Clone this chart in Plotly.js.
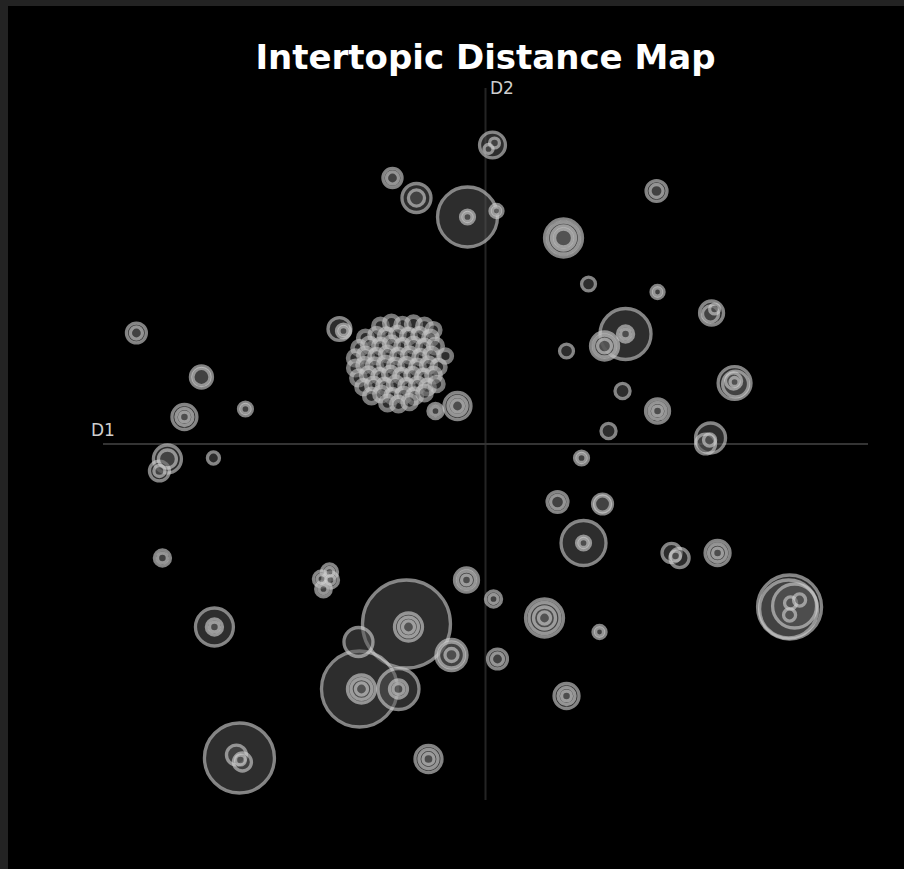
<!DOCTYPE html>
<html>
<head>
<meta charset="utf-8">
<script src="https://cdn.plot.ly/plotly-3.0.1.min.js"></script>
<style>
  html, body { margin: 0; padding: 0; background: #232323; width: 904px; height: 869px; overflow: hidden; }
  #chart { position: absolute; left: 8px; top: 6px; width: 896px; height: 863px; }
</style>
</head>
<body>
<div id="chart"></div>
<script>
// ---- Topic coordinates (2D embedding) and topic sizes ----
const topicX = [
  0.175, 0.225, 0.075,
  -2.325, -2.325,
  -1.725, -1.725,
  -0.45, -0.45, -0.45,
  0.275, 0.275,
  4.275, 4.275,
  1.95, 1.95, 1.95, 1.95,
  2.575,
  4.3, 4.3,
  5.65, 5.625, 5.725,
  3.5, 3.5, 3.5,
  2.975, 2.975, 2.975,
  2.025,
  6.225, 6.25, 6.2, 6.225,
  3.425,
  4.3, 4.3, 4.3,
  3.075,
  5.625, 5.5, 5.6,
  -8.725, -8.725,
  -7.1, -7.1,
  -7.525, -7.525, -7.525,
  -6.0, -6.0,
  -3.65, -3.55, -3.55,
  -1.25, -1.25,
  -0.7, -0.7, -0.7,
  -7.95, -7.95, -8.15, -8.15,
  -6.8,
  -8.075, -8.075,
  -3.9, -3.9, -4.1, -4.1, -3.875, -3.875, -4.05, -4.05,
  -6.775, -6.775, -6.775,
  -6.15, -6.225, -6.075, -6.125,
  -3.175,
  -1.975, -1.925, -1.925, -1.925,
  -0.85, -0.85, -0.85,
  -3.15, -3.1, -3.1, -3.1,
  -2.175, -2.175, -2.175,
  -0.475, -0.475, -0.475,
  -1.425, -1.425, -1.425,
  0.2, 0.2,
  2.4, 2.4,
  1.8, 1.8,
  2.925, 2.925,
  2.45, 2.45, 2.45,
  4.65, 4.85, 4.75,
  5.8, 5.8, 5.8,
  7.6, 7.575, 7.725, 7.625, 7.85, 7.6,
  1.475, 1.475, 1.475, 1.475,
  2.85, 2.85,
  0.3, 0.3,
  2.025, 2.025, 2.025
];
const topicY = [
  7.475, 7.525, 7.375,
  6.65, 6.65,
  6.15, 6.15,
  5.675, 5.675, 5.675,
  5.825, 5.825,
  6.325, 6.325,
  5.15, 5.15, 5.15, 5.15,
  4.0,
  3.8, 3.8,
  3.275, 3.25, 3.375,
  2.75, 2.75, 2.75,
  2.45, 2.45, 2.45,
  2.325,
  1.525, 1.5, 1.575, 1.55,
  1.325,
  0.825, 0.825, 0.825,
  0.325,
  0.15, 0.0, 0.1,
  2.775, 2.775,
  1.675, 1.675,
  0.675, 0.675, 0.675,
  0.875, 0.875,
  2.875, 2.825, 2.825,
  0.825, 0.825,
  0.95, 0.95, 0.95,
  -0.375, -0.375, -0.675, -0.675,
  -0.35,
  -2.85, -2.85,
  -3.2, -3.2, -3.375, -3.375, -3.4, -3.4, -3.625, -3.625,
  -4.575, -4.575, -4.575,
  -7.85, -7.775, -7.95, -7.9,
  -4.95,
  -4.5, -4.575, -4.575, -4.575,
  -5.275, -5.275, -5.275,
  -6.125, -6.125, -6.125, -6.125,
  -6.125, -6.125, -6.125,
  -3.4, -3.4, -3.4,
  -7.875, -7.875, -7.875,
  -3.875, -3.875,
  -0.35, -0.35,
  -1.45, -1.45,
  -1.5, -1.5,
  -2.475, -2.475, -2.475,
  -2.725, -2.85, -2.8,
  -2.725, -2.725, -2.725,
  -4.075, -4.125, -4.05, -3.975, -3.9, -4.275,
  -4.35, -4.35, -4.35, -4.35,
  -4.7, -4.7,
  -5.375, -5.375,
  -6.3, -6.3, -6.3
];
const topicSize = [
  83, 12, 10,
  45, 18,
  104, 32,
  444, 24, 10,
  21, 8,
  54, 21,
  178, 126, 71, 40,
  24,
  21, 8,
  71, 32, 12,
  321, 32, 12,
  97, 60, 24,
  24,
  134, 83, 32, 10,
  28,
  71, 36, 12,
  28,
  111, 49, 18,
  49, 18,
  60, 36,
  77, 36, 12,
  24, 10,
  65, 24, 10,
  28, 10,
  90, 45, 18,
  97, 40, 49, 15,
  18,
  32, 12,
  32, 10, 32, 10, 32, 10, 30, 10,
  178, 32, 12,
  605, 49, 40, 12,
  104,
  956, 97, 49, 18,
  119, 83, 21,
  713, 97, 54, 18,
  208, 40, 15,
  71, 40, 12,
  90, 45, 15,
  32, 10,
  24, 10,
  54, 24,
  49, 32,
  250, 24, 10,
  45, 45, 12,
  77, 40, 12,
  506, 415, 239, 18, 18, 18,
  178, 119, 60, 18,
  21, 8,
  49, 18,
  77, 36, 12
];

// ---- Dense group of small topics (left of D2, above D1) ----
const clusterX = [
  -2.625, -2.35, -2.075, -1.8, -1.525, -1.3,
  -3.0, -2.725, -2.475, -2.2, -1.925, -1.65, -1.375,
  -3.15, -2.9, -2.625, -2.35, -2.075, -1.8, -1.525, -1.25,
  -3.25, -3.0, -2.725, -2.45, -2.175, -1.9, -1.625, -1.35, -1.0,
  -3.25, -3.025, -2.775, -2.5, -2.25, -1.975, -1.7, -1.425, -1.175,
  -3.175, -2.925, -2.65, -2.375, -2.1, -1.825, -1.55, -1.3,
  -3.05, -2.8, -2.525, -2.25, -1.975, -1.7, -1.45, -1.225,
  -2.85, -2.6, -2.325, -2.05, -1.775, -1.525,
  -2.45, -2.175, -1.9
];
const clusterY = [
  2.95, 3.025, 2.975, 3.0, 2.95, 2.85,
  2.65, 2.725, 2.7, 2.75, 2.7, 2.725, 2.65,
  2.4, 2.475, 2.45, 2.5, 2.45, 2.475, 2.425, 2.45,
  2.15, 2.225, 2.2, 2.25, 2.2, 2.225, 2.175, 2.225, 2.2,
  1.9, 1.975, 1.95, 2.0, 1.95, 1.975, 1.925, 1.975, 1.925,
  1.65, 1.725, 1.7, 1.75, 1.7, 1.725, 1.675, 1.725,
  1.425, 1.475, 1.45, 1.5, 1.45, 1.475, 1.425, 1.5,
  1.2, 1.25, 1.2, 1.225, 1.2, 1.275,
  1.025, 1.0, 1.05
];
const clusterSize = [
  25, 26, 24, 27, 25, 23,
  26, 24, 27, 25, 26, 24, 25,
  24, 26, 25, 27, 24, 26, 25, 26,
  27, 25, 24, 26, 25, 27, 24, 25, 20,
  26, 24, 27, 25, 26, 24, 25, 27, 24,
  25, 27, 24, 26, 25, 24, 26, 25,
  24, 26, 25, 27, 24, 26, 25, 24,
  26, 25, 24, 26, 27, 25,
  25, 26, 24
];

// Axis extents of the embedding
const xRange = [-9.56, 9.56];
const yRange = [-8.9, 8.9];

// ---- scale shared by both traces ----
const SIZE_MAX = 88;
const sizeref = 2 * Math.max(...topicSize, ...clusterSize) / (SIZE_MAX * SIZE_MAX);
const FILL = 'rgba(88,88,88,0.74)';
const EDGE = 'rgba(212,212,212,0.88)';

// draw larger topics first so smaller ones sit on top
const order = topicSize.map((s, i) => i).sort((a, b) => topicSize[b] - topicSize[a]);

const mainTrace = {
  type: 'scatter',
  mode: 'markers',
  x: order.map(i => topicX[i]),
  y: order.map(i => topicY[i]),
  text: order.map(i => 'Topic ' + i),
  hoverinfo: 'text',
  marker: {
    size: order.map(i => topicSize[i]),
    sizemode: 'area',
    sizeref: sizeref,
    color: FILL,
    line: { width: 3.3, color: EDGE }
  },
  showlegend: false
};

const clusterTrace = {
  type: 'scatter',
  mode: 'markers',
  x: clusterX,
  y: clusterY,
  text: clusterX.map((v, i) => 'Topic ' + (topicX.length + i)),
  hoverinfo: 'text',
  marker: {
    size: clusterSize,
    sizemode: 'area',
    sizeref: sizeref,
    color: FILL,
    line: { width: 4.6, color: 'rgba(200,200,200,0.85)' }
  },
  showlegend: false
};

const xMid = (xRange[0] + xRange[1]) / 2;
const yMid = (yRange[0] + yRange[1]) / 2;

const layout = {
  width: 896,
  height: 863,
  margin: { l: 95, r: 36, t: 82, b: 69, pad: 0 },
  paper_bgcolor: '#000000',
  plot_bgcolor: '#000000',
  font: { family: 'DejaVu Sans, sans-serif', color: '#cfcfcf' },
  title: {
    text: '<b>Intertopic Distance Map</b>',
    font: { family: 'DejaVu Sans, sans-serif', size: 34, color: '#ffffff' },
    x: 0.5, xref: 'paper', xanchor: 'center',
    y: 0.941, yref: 'container', yanchor: 'middle'
  },
  xaxis: { range: xRange, visible: false, showgrid: false, zeroline: false, fixedrange: true },
  yaxis: { range: yRange, visible: false, showgrid: false, zeroline: false, fixedrange: true },
  shapes: [
    { type: 'line', xref: 'x', yref: 'y', x0: xMid, x1: xMid, y0: yRange[0], y1: yRange[1],
      line: { color: 'rgb(36,36,36)', width: 2 }, layer: 'below' },
    { type: 'line', xref: 'x', yref: 'y', x0: xRange[0], x1: xRange[1], y0: yMid, y1: yMid,
      line: { color: 'rgb(52,52,52)', width: 2 }, layer: 'below' }
  ],
  annotations: [
    { x: xRange[0], y: yMid, xref: 'x', yref: 'y', text: 'D1', showarrow: false, yshift: 14,
      font: { size: 17, color: '#cfcfcf', family: 'DejaVu Sans, sans-serif' } },
    { x: xMid, y: yRange[1], xref: 'x', yref: 'y', text: 'D2', showarrow: false, xshift: 16,
      font: { size: 17, color: '#cfcfcf', family: 'DejaVu Sans, sans-serif' } }
  ],
  hovermode: 'closest'
};

Plotly.newPlot('chart', [mainTrace, clusterTrace], layout, { displayModeBar: false, staticPlot: true });
</script>
</body>
</html>
